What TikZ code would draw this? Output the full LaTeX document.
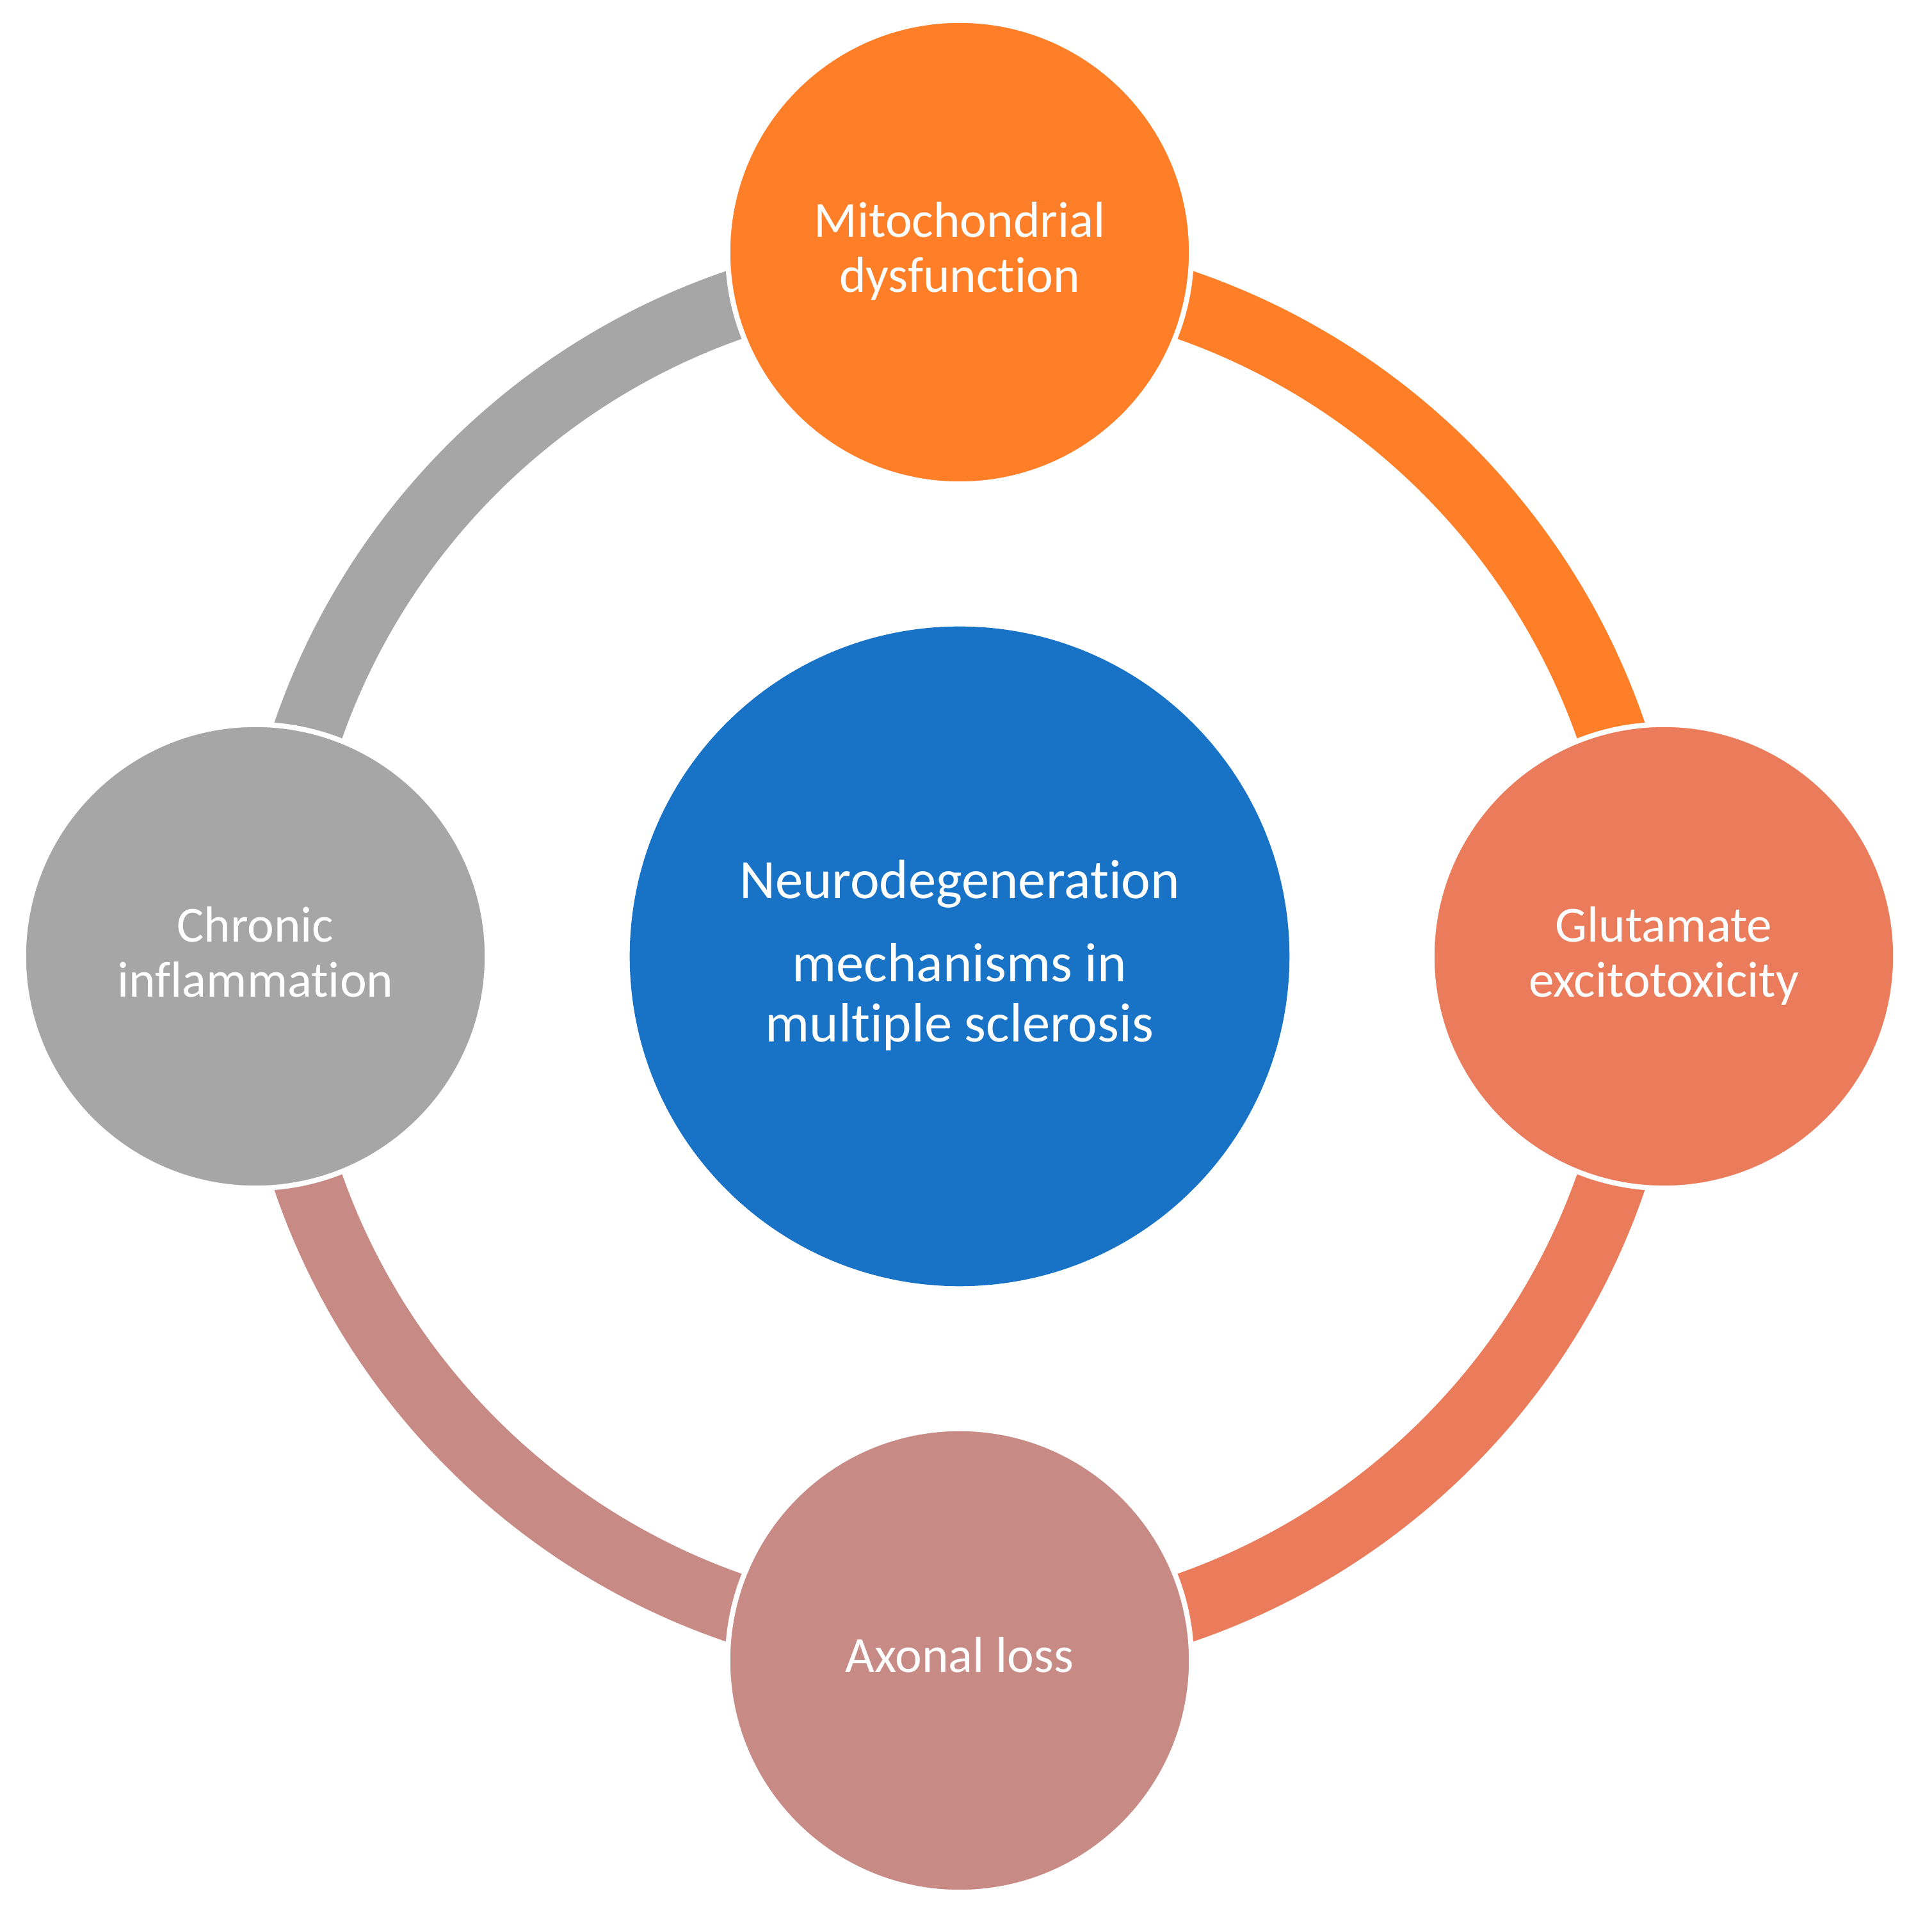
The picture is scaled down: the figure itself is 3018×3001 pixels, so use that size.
\documentclass[tikz,border=0pt]{standalone}
\usepackage{fontspec}
\setmainfont{Carlito}[Ligatures={NoCommon}]
\usetikzlibrary{calc}
\definecolor{cOrange}{HTML}{FE7F27}
\definecolor{cSalmon}{HTML}{EB7C5B}
\definecolor{cRose}{HTML}{C88A85}
\definecolor{cGray}{HTML}{A6A6A6}
\definecolor{cBlue}{HTML}{1873C7}
\tikzset{
  sat/.style={circle, minimum size=7.24cm, inner sep=0pt, outer sep=0pt, draw=white, line width=0.08cm},
  ringband/.style={line width=1.08cm},
  lbl/.style={text=white, inner sep=0pt, anchor=base, font=\fontsize{22.5}{26}\selectfont},
  clbl/.style={text=white, inner sep=0pt, anchor=base, font=\fontsize{24.6}{29}\selectfont}
}
\begin{document}
\begin{tikzpicture}[x=0.01cm,y=0.01cm]
\useasboundingbox (-1499,-1507) rectangle (1519,1494);
\node[circle, fill=cBlue, minimum size=10.3cm, inner sep=0pt] (ctr) at (0,0) {};
% ring bands
\draw[ringband, cOrange] ($(ctr.center)+(90:10.76cm)$) arc[start angle=90, end angle=0, radius=10.76cm];
\draw[ringband, cSalmon] ($(ctr.center)+(0:10.76cm)$) arc[start angle=0, end angle=-90, radius=10.76cm];
\draw[ringband, cRose] ($(ctr.center)+(-90:10.76cm)$) arc[start angle=-90, end angle=-180, radius=10.76cm];
\draw[ringband, cGray] ($(ctr.center)+(180:10.76cm)$) arc[start angle=180, end angle=90, radius=10.76cm];
% satellites
\node[sat, fill=cOrange] (mito) at (0,1100) {};
\node[sat, fill=cSalmon] (glut) at (1100,0) {};
\node[sat, fill=cRose] (axon) at (0,-1100) {};
\node[sat, fill=cGray] (chron) at (-1100,0) {};
% labels
\node[clbl] (ctrA) at ($(ctr.center)+(0,90)$) {Neurodegeneration};
\node[clbl] (ctrB) at ($(ctr.center)+(0,-40)$) {mechanisms in};
\node[clbl] (ctrC) at ($(ctr.center)+(0,-134)$) {multiple sclerosis};
\node[lbl] (mitoA) at ($(mito.center)+(0,23)$) {Mitochondrial};
\node[lbl] (mitoB) at ($(mito.center)+(0,-63)$) {dysfunction};
\node[lbl] (glutA) at ($(glut.center)+(0,22)$) {Glutamate};
\node[lbl] (glutB) at ($(glut.center)+(0,-64)$) {excitotoxicity};
\node[lbl] (axonA) at ($(axon.center)+(0,-19)$) {Axonal loss};
\node[lbl] (chronA) at ($(chron.center)+(0,22)$) {Chronic};
\node[lbl] (chronB) at ($(chron.center)+(0,-64)$) {inflammation};
\end{tikzpicture}
\end{document}
